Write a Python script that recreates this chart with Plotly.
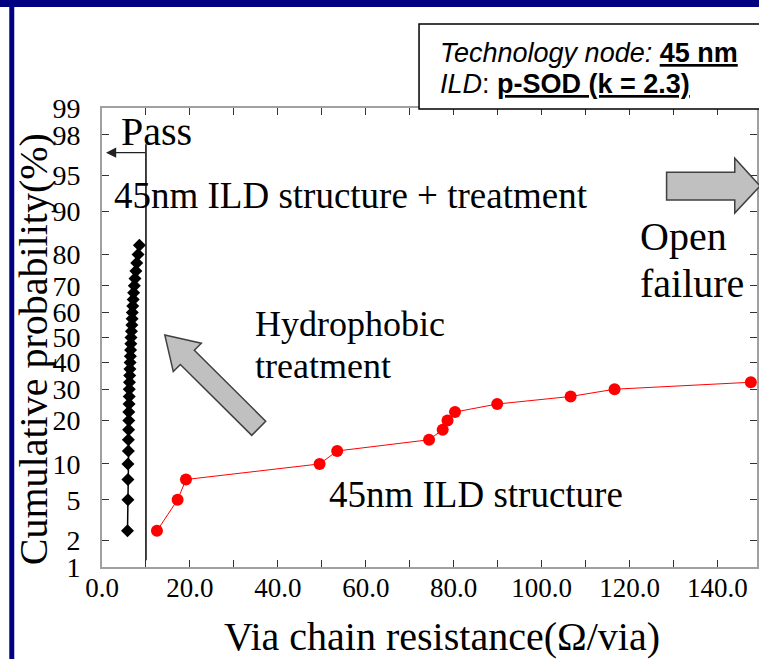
import plotly.graph_objects as go
from statistics import NormalDist

# ---- data -------------------------------------------------------------
# 45nm ILD structure + hydrophobic treatment (via chain resistance, Ω/via)
treated_res = [5.8, 5.9, 5.9, 5.9, 6.0, 6.0, 6.05, 6.1, 6.1, 6.15, 6.2, 6.2,
               6.25, 6.3, 6.35, 6.4, 6.45, 6.5, 6.55, 6.6, 6.7, 6.8, 6.85,
               6.9, 7.0, 7.1, 7.2, 7.35, 7.5, 7.7, 7.9, 8.2, 8.5]
treated_prob = [2.5, 5, 7.5, 10, 12.5, 15, 17.5, 20, 22.5, 25, 27.5, 30, 32.5,
                35, 37.5, 40, 42.5, 45, 47.5, 50, 52.5, 55, 57.5, 60, 62.5, 65,
                67.5, 70, 72.5, 75, 77.5, 80, 82.5]

# 45nm ILD structure without treatment
plain_res = [12.5, 17.2, 19.1, 49.5, 53.5, 74.4, 77.5, 78.6, 80.3, 89.9,
             106.6, 116.6, 147.6]
plain_prob = [2.5, 5, 7.5, 10, 12.5, 15, 17.5, 20, 22.5, 25, 27.5, 30, 32.5]

# pass criterion on resistance
pass_limit = 10.0

y_tick_pct = [1, 2, 5, 10, 20, 30, 40, 50, 60, 70, 80, 90, 95, 98, 99]
x_tick_vals = [0, 10, 20, 30, 40, 50, 60, 70, 80, 90, 100, 110, 120, 130, 140]
x_tick_text = ["0.0", "", "20.0", "", "40.0", "", "60.0", "", "80.0", "",
               "100.0", "", "120.0", "", "140.0"]

# ---- helpers ----------------------------------------------------------
ND = NormalDist()


def probit(p):
    """Cumulative percentage -> normal quantile (probability-paper axis)."""
    return ND.inv_cdf(p / 100.0)


W, H = 759, 659
ML, MR, MT, MB = 102, 0, 108, 92
PW, PH = W - ML - MR, H - MT - MB


def px(x):
    return (x - ML) / PW


def py(y):
    return (H - MB - y) / PH


def path(points):
    pts = [f"{px(x):.5f},{py(y):.5f}" for x, y in points]
    return "M" + " L".join(pts) + " Z"


SERIF = "Liberation Serif, Times New Roman, serif"
SANS = "Liberation Sans, Arial, sans-serif"

fig = go.Figure()

fig.add_trace(go.Scatter(
    x=treated_res, y=[probit(p) for p in treated_prob],
    mode="lines+markers",
    line=dict(color="black", width=1.5),
    marker=dict(symbol="diamond", size=10, color="black"),
    cliponaxis=False, showlegend=False,
))

fig.add_trace(go.Scatter(
    x=plain_res, y=[probit(p) for p in plain_prob],
    mode="lines+markers",
    line=dict(color="#ff0000", width=1),
    marker=dict(symbol="circle", size=12, color="#ff0000"),
    cliponaxis=True, showlegend=False,
))

shapes = []
# navy slide frame
shapes.append(dict(type="rect", xref="paper", yref="paper",
                   x0=px(-2), x1=px(W + 2), y0=py(7), y1=py(-2),
                   fillcolor="#000080", line=dict(width=0), layer="above"))
shapes.append(dict(type="rect", xref="paper", yref="paper",
                   x0=px(9), x1=px(14), y0=py(H + 2), y1=py(-2),
                   fillcolor="#000080", line=dict(width=0), layer="above"))

# pass limit line
shapes.append(dict(type="line", xref="x", yref="y",
                   x0=pass_limit, x1=pass_limit,
                   y0=probit(1.2), y1=probit(97.5),
                   line=dict(color="black", width=1.5)))

# information box
shapes.append(dict(type="rect", xref="paper", yref="paper",
                   x0=px(420), x1=px(W + 5), y0=py(109), y1=py(24),
                   fillcolor="white", line=dict(color="black", width=1.5),
                   layer="above"))

# hydrophobic treatment block arrow (pointing up-left)
shapes.append(dict(type="path", xref="paper", yref="paper",
                   path=path([(165, 335), (201.7, 343.2), (194.6, 350.3),
                              (266.2, 421.2), (252.2, 435.4), (180.6, 364.5),
                              (173.5, 371.6)]),
                   fillcolor="#c0c0c0", line=dict(color="#404040", width=1.5),
                   layer="above"))

# open failure block arrow (pointing right)
shapes.append(dict(type="path", xref="paper", yref="paper",
                   path=path([(668.3, 172.3), (736.7, 172.3), (736.7, 158.3),
                              (762, 186), (736.7, 213), (736.7, 200),
                              (668.3, 200)]),
                   fillcolor="#c0c0c0", line=dict(color="#404040", width=1.5),
                   layer="above"))

annotations = []


def label(text, x, y_mid, size, family=SERIF, anchor="left", **kw):
    annotations.append(dict(text=text, xref="paper", yref="paper",
                            x=px(x), y=py(y_mid), xanchor=anchor,
                            yanchor="middle", showarrow=False,
                            font=dict(family=family, size=size, color="black"),
                            **kw))


label("Pass", 119, 131, 40)
label("45nm ILD structure + treatment", 112, 195, 37)
label("Hydrophobic", 253, 324, 36)
label("treatment", 253, 366, 36)
label("Open", 640, 236, 40)
label("failure", 640, 283, 40)
label("45nm ILD structure", 328, 494, 37)

label("<i>Technology node:</i> <b><u>45 nm</u></b>", 439, 52.6, 27, family=SANS)
label("<i>ILD</i>: <b><u>p-SOD (k = 2.3)</u></b>", 439, 83.6, 27, family=SANS)

# axis titles
label("Via chain resistance(Ω/via)", 443, 636, 40, anchor="center")
label("Cumulative probability(%)", 33, 349, 40, anchor="center",
      textangle=-90)

# pass arrow
annotations.append(dict(text="", xref="paper", yref="paper",
                        x=px(106), y=py(152.7), ax=41, ay=0,
                        showarrow=True, arrowhead=2, arrowsize=1.7,
                        arrowwidth=1.2, arrowcolor="#222222"))

axis_common = dict(
    showline=True, linecolor="#a0a0a0", linewidth=2, mirror="allticks",
    ticks="inside", ticklen=7, tickwidth=1, tickcolor="#333333",
    showgrid=False, zeroline=False,
)

fig.update_layout(
    width=W, height=H,
    margin=dict(l=ML, r=MR, t=MT, b=MB),
    paper_bgcolor="white", plot_bgcolor="white",
    shapes=shapes, annotations=annotations,
    xaxis=dict(range=[0, 149], tickvals=x_tick_vals, ticktext=x_tick_text,
               tickfont=dict(family=SERIF, size=27, color="black"),
               ticklabelstandoff=-4, **axis_common),
    yaxis=dict(range=[probit(1), probit(99)],
               tickvals=[probit(p) for p in y_tick_pct],
               ticktext=[str(p) for p in y_tick_pct],
               tickfont=dict(family=SERIF, size=28, color="black"),
               ticklabelstandoff=14, **axis_common),
)

fig.write_html("out.html")
